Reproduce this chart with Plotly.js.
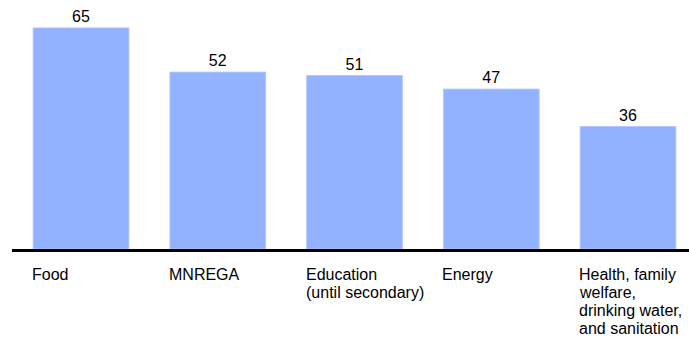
<!DOCTYPE html>
<html>
<head>
<meta charset="utf-8">
<script src="https://cdn.plot.ly/plotly-3.0.1.min.js"></script>
<style>html,body{margin:0;padding:0;background:#fff;}#chart{width:689px;height:345px;}</style>
</head>
<body>
<div id="chart"></div>
<script>
const categories = ["Food", "MNREGA", "Education (until secondary)", "Energy", "Health, family welfare, drinking water, and sanitation"];
const labelLines = [
  ["Food"],
  ["MNREGA"],
  ["Education", "(until secondary)"],
  ["Energy"],
  ["Health, family", "welfare,", "drinking water,", "and sanitation"]
];
const values = [65, 52, 51, 47, 36];

const FONT = "Liberation Sans, Arial, sans-serif";
const xs = categories.map((c, i) => i);
const barWidth = 0.7;

const annotations = [];
labelLines.forEach((lines, i) => {
  lines.forEach((ln, k) => {
    annotations.push({
      x: xs[i] - barWidth / 2, xref: "x", xanchor: "left",
      y: 0, yref: "paper", yanchor: "top",
      xshift: -2,
      yshift: -15.5 - 18.33 * k,
      text: ln, showarrow: false,
      font: {family: FONT, size: 16, color: "#000"},
      borderpad: 0
    });
  });
});

Plotly.newPlot("chart", [{
  type: "bar",
  x: xs,
  y: values,
  width: barWidth,
  text: values.map(String),
  textposition: "outside",
  textfont: {family: FONT, size: 16, color: "#000"},
  cliponaxis: false,
  marker: {color: "#92b1fe", line: {color: "#b3c8ff", width: 1}},
  hoverinfo: "none"
}], {
  width: 689, height: 345,
  margin: {l: 12, r: 0, t: 0, b: 96},
  paper_bgcolor: "#fff", plot_bgcolor: "#fff",
  showlegend: false,
  xaxis: {range: [-0.505, 4.446], showticklabels: false, ticks: "", showgrid: false, zeroline: false,
          showline: true, linecolor: "#000", linewidth: 2.5, fixedrange: true},
  yaxis: {range: [0, 73.2], visible: false, showgrid: false, zeroline: false, fixedrange: true},
  annotations: annotations,
  bargap: 0.3
}, {displayModeBar: false, staticPlot: true});
</script>
</body>
</html>
